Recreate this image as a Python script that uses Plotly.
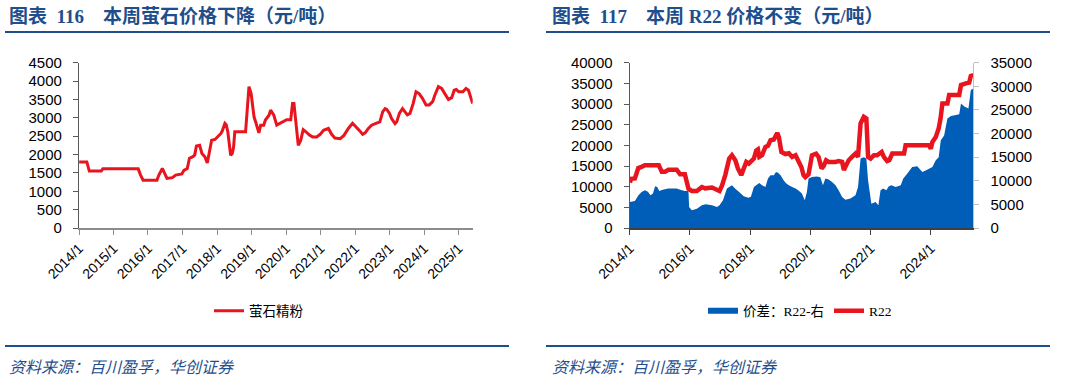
import plotly.graph_objects as go

# ---------------- data: left chart (萤石精粉, 元/吨) ----------------
fluor_dates = [
    "2014-01-03", "2014-03-25", "2014-04-20", "2014-08-25", "2014-09-10", "2015-09-20",
    "2015-10-15", "2015-11-10", "2016-04-05", "2016-04-25", "2016-06-01", "2016-06-28",
    "2016-07-20", "2016-09-15", "2016-10-20", "2016-12-25", "2017-01-15", "2017-02-20",
    "2017-03-15", "2017-04-20", "2017-05-10", "2017-05-28", "2017-07-01", "2017-07-25",
    "2017-08-25", "2017-09-20", "2017-10-15", "2017-11-05", "2017-12-10", "2018-01-05",
    "2018-02-10", "2018-02-25", "2018-03-25", "2018-04-08", "2018-04-25", "2018-05-25",
    "2018-06-10", "2018-06-25", "2018-07-08", "2018-10-30", "2018-11-15", "2018-12-05",
    "2018-12-28", "2019-01-28", "2019-02-15", "2019-03-20", "2019-04-08", "2019-05-10",
    "2019-05-28", "2019-07-05", "2019-07-22", "2019-08-25", "2019-09-25", "2019-10-30",
    "2019-12-01", "2020-01-08", "2020-02-20", "2020-03-10", "2020-03-25", "2020-04-15",
    "2020-05-10", "2020-06-05", "2020-07-01", "2020-07-30", "2020-09-05", "2020-10-08",
    "2020-11-20", "2020-12-28", "2021-02-01", "2021-03-25", "2021-04-28", "2021-06-01",
    "2021-07-28", "2021-09-05", "2021-10-22", "2021-12-05", "2022-01-10", "2022-02-18",
    "2022-03-22", "2022-04-18", "2022-05-22", "2022-06-25", "2022-08-10", "2022-09-20",
    "2022-10-20", "2022-11-15", "2022-12-02", "2023-01-01", "2023-01-22", "2023-02-28",
    "2023-03-18", "2023-04-15", "2023-05-18", "2023-06-12", "2023-07-08", "2023-08-05",
    "2023-09-08", "2023-10-08", "2023-11-10", "2023-12-15", "2024-01-22", "2024-02-25",
    "2024-04-01", "2024-04-25", "2024-06-01", "2024-07-05", "2024-08-10", "2024-09-15",
    "2024-10-20", "2024-11-15", "2024-12-08", "2025-01-01", "2025-02-15", "2025-03-20",
    "2025-04-15", "2025-05-01", "2025-05-30",
]
fluor_price = [
    1800, 1800, 1550, 1550, 1610, 1610,
    1440, 1300, 1300, 1440, 1620, 1440,
    1350, 1370, 1440, 1470, 1570, 1620,
    1900, 1940, 1990, 2230, 2250, 2030,
    1940, 1770, 2080, 2390, 2410, 2480,
    2570, 2640, 2850, 2810, 2620, 1980,
    2020, 2200, 2620, 2620, 3200, 3850,
    3660, 3020, 2880, 2590, 2800, 2800,
    2940, 3070, 3210, 3070, 2800, 2850,
    2910, 2950, 2950, 3390, 3390, 2760,
    2250, 2390, 2680, 2620, 2530, 2480,
    2480, 2550, 2660, 2710, 2550, 2450,
    2430, 2520, 2710, 2850, 2760, 2650,
    2550, 2590, 2710, 2800, 2850, 2890,
    3160, 3250, 3230, 3120, 2980, 2840,
    2890, 3120, 3250, 3170, 3080, 3120,
    3390, 3710, 3660, 3530, 3350, 3350,
    3440, 3620, 3850, 3800, 3660, 3500,
    3550, 3750, 3770, 3710, 3710, 3800,
    3750, 3620, 3390,
]

# ---------------- data: right chart (R22 & 价差) ----------------
r22_dates = [
    "2014-01-03", "2014-01-20", "2014-03-05", "2014-04-15", "2014-05-25", "2014-07-05",
    "2014-12-20", "2015-01-25", "2015-03-05", "2015-04-15", "2015-07-25", "2015-09-05",
    "2015-11-01", "2015-12-15", "2016-01-25", "2016-03-25", "2016-05-25", "2016-07-05",
    "2016-09-25", "2016-11-25", "2016-12-25", "2017-01-25", "2017-03-05", "2017-04-22",
    "2017-05-25", "2017-07-05", "2017-08-05", "2017-09-15", "2017-10-15", "2017-11-15",
    "2017-12-15", "2018-01-15", "2018-02-15", "2018-03-15", "2018-04-05", "2018-04-22",
    "2018-05-25", "2018-07-05", "2018-08-05", "2018-09-05", "2018-10-15", "2018-11-25",
    "2018-12-15", "2019-01-15", "2019-03-05", "2019-04-15", "2019-05-25", "2019-07-05",
    "2019-08-10", "2019-09-15", "2019-10-10", "2019-11-01", "2019-12-10", "2020-01-01",
    "2020-01-20", "2020-03-10", "2020-04-10", "2020-05-15", "2020-06-10", "2020-07-10",
    "2020-08-10", "2020-11-01", "2020-12-10", "2021-01-20", "2021-02-10", "2021-03-10",
    "2021-04-10", "2021-05-20", "2021-07-01", "2021-08-01", "2021-09-01", "2021-10-10",
    "2021-11-10", "2021-12-01", "2022-01-01", "2022-02-10", "2022-03-20", "2022-05-15",
    "2022-06-10", "2022-07-20", "2022-08-15", "2022-09-20", "2023-02-10", "2023-03-01",
    "2023-12-10", "2024-01-01", "2024-01-20", "2024-03-01", "2024-04-05", "2024-04-28",
    "2024-05-20", "2024-07-20", "2024-08-10", "2024-12-10", "2025-01-01", "2025-03-01",
    "2025-04-10", "2025-04-30", "2025-05-30",
]
r22_price = [
    11000, 11900, 12000, 14500, 14800, 15200,
    15200, 13600, 13600, 14100, 14100, 13000,
    13000, 9500, 8970, 8970, 9900, 9600,
    9800, 9300, 8970, 10300, 12800, 16800,
    17600, 16400, 14400, 12800, 14800, 16000,
    15600, 16400, 16800, 18700, 19000, 17200,
    17600, 19600, 19900, 21250, 21400, 23000,
    22000, 18400, 17900, 18100, 17200, 17600,
    16400, 14700, 12800, 12300, 13000, 15600,
    17600, 18000, 17200, 14400, 15000, 16400,
    16000, 16000, 16200, 16000, 14000, 15200,
    16400, 17200, 18000, 17200, 25300, 26900,
    26500, 17200, 16800, 17600, 17600, 18400,
    17200, 16200, 16400, 18000, 18000, 20000,
    20000, 19200, 20800, 22000, 24100, 26500,
    30100, 30100, 32200, 32200, 34600, 35000,
    35200, 36800, 37000,
]

spread_dates = [
    "2014-01-03", "2014-03-05", "2014-04-15", "2014-05-25", "2014-07-05", "2014-08-10",
    "2014-09-10", "2014-10-10", "2014-11-05", "2014-12-01", "2014-12-25", "2015-02-05",
    "2015-04-15", "2015-07-25", "2015-09-05", "2015-11-01", "2015-12-15", "2015-12-22",
    "2016-01-25", "2016-03-25", "2016-05-25", "2016-07-10", "2016-09-25", "2016-11-25",
    "2016-12-25", "2017-02-05", "2017-03-25", "2017-05-25", "2017-07-05", "2017-08-20",
    "2017-10-15", "2017-12-10", "2018-01-10", "2018-02-15", "2018-03-15", "2018-04-22",
    "2018-05-25", "2018-07-05", "2018-08-05", "2018-09-05", "2018-10-15", "2018-11-10",
    "2018-12-05", "2019-01-05", "2019-02-10", "2019-03-15", "2019-04-15", "2019-05-25",
    "2019-07-05", "2019-08-10", "2019-09-20", "2019-10-25", "2019-11-20", "2019-12-10",
    "2020-01-20", "2020-03-20", "2020-05-01", "2020-06-01", "2020-07-01", "2020-08-10",
    "2020-09-20", "2020-11-01", "2020-12-10", "2021-01-20", "2021-03-01", "2021-05-01",
    "2021-07-01", "2021-08-01", "2021-09-01", "2021-10-10", "2021-11-10", "2021-12-01",
    "2022-01-10", "2022-03-01", "2022-04-05", "2022-05-01", "2022-06-01", "2022-07-10",
    "2022-08-10", "2022-09-10", "2022-11-01", "2023-01-01", "2023-02-01", "2023-03-20",
    "2023-05-20", "2023-07-20", "2023-09-20", "2023-10-30", "2023-12-10", "2024-01-20",
    "2024-03-01", "2024-04-05", "2024-05-01", "2024-06-10", "2024-07-20", "2024-09-01",
    "2024-11-01", "2024-12-10", "2025-01-01", "2025-02-10", "2025-04-01", "2025-04-30",
    "2025-05-30",
]
spread_value = [
    5500, 5700, 6900, 7640, 8000, 7700,
    6930, 7300, 8840, 8700, 7850, 8100,
    8340, 8340, 8100, 7850, 7850, 4450,
    3750, 4100, 4800, 5020, 4800, 4450,
    4800, 5900, 8340, 9050, 8300, 7600,
    6720, 6430, 6600, 8700, 9050, 9540,
    9050, 8700, 10460, 11170, 11170, 11880,
    11700, 11170, 10100, 9400, 9050, 8700,
    8340, 7950, 7280, 5870, 7600, 10460,
    10800, 10900, 10750, 9050, 10460, 10250,
    9750, 9050, 7950, 6580, 6000, 6220,
    6930, 8700, 14700, 15000, 14700, 10100,
    5160, 5500, 4800, 8000, 8340, 8000,
    8840, 9050, 8700, 9050, 10460, 11500,
    12940, 13100, 11880, 12200, 12550, 12940,
    14350, 15000, 18590, 19600, 23190, 23700,
    23900, 24100, 26370, 25700, 25310, 29200,
    29550,
]

# ---------------- axis labels ----------------
left_tick_dates = ["2014-01-01", "2015-01-01", "2016-01-01", "2017-01-01", "2018-01-01", "2019-01-01",
                   "2020-01-01", "2021-01-01", "2022-01-01", "2023-01-01", "2024-01-01", "2025-01-01"]
left_tick_text = ["2014/1", "2015/1", "2016/1", "2017/1", "2018/1", "2019/1",
                  "2020/1", "2021/1", "2022/1", "2023/1", "2024/1", "2025/1"]
right_tick_dates = ["2014-01-01", "2016-01-01", "2018-01-01", "2020-01-01", "2022-01-01", "2024-01-01"]
right_tick_text = ["2014/1", "2016/1", "2018/1", "2020/1", "2022/1", "2024/1"]

title_left = "图表  116    本周萤石价格下降（元/吨）"
title_right = "图表  117    本周 R22 价格不变（元/吨）"
source_text = "资料来源：百川盈孚，华创证券"

RED = "#E8141E"
BLUE = "#005EB8"
NAVY = "#1F4E8C"
W, H = 1066, 380

fig = go.Figure()

fig.add_trace(go.Scatter(
    x=fluor_dates, y=fluor_price, name="萤石精粉", mode="lines",
    line=dict(color=RED, width=3), xaxis="x", yaxis="y", legend="legend",
))
fig.add_trace(go.Scatter(
    x=spread_dates, y=spread_value, name="价差：R22-右", mode="none",
    fill="tozeroy", fillcolor=BLUE, xaxis="x2", yaxis="y2", legend="legend2",
))
fig.add_trace(go.Scatter(
    x=r22_dates, y=r22_price, name="R22", mode="lines",
    line=dict(color=RED, width=4.5), xaxis="x2", yaxis="y3", legend="legend2",
))

y_dom = [(H - 228) / H, (H - 62.7) / H]
tickfont_y = dict(family="Liberation Sans, Arial", size=15, color="#000")
tickfont_x = dict(family="Liberation Sans, Arial", size=14, color="#000")
legend_font = dict(family="Liberation Serif, Noto Sans CJK SC", size=13.5, color="#000")
x_end = "2025-05-30"

fig.update_layout(
    width=W, height=H,
    margin=dict(l=0, r=0, t=0, b=0, pad=0, autoexpand=False),
    paper_bgcolor="white", plot_bgcolor="rgba(0,0,0,0)",
    xaxis=dict(domain=[79 / W, 472.7 / W], anchor="y", type="date", automargin=False,
               range=["2014-01-01", x_end], tickvals=left_tick_dates, ticktext=left_tick_text,
               tickangle=-45, tickfont=tickfont_x, showgrid=False, zeroline=False,
               showline=True, linecolor="#8c8c8c", linewidth=1.5,
               ticks="outside", ticklen=5, tickcolor="#8c8c8c"),
    yaxis=dict(domain=y_dom, anchor="x", range=[0, 4500], dtick=500, automargin=False,
               tickfont=tickfont_y, showgrid=False, zeroline=False, tickformat="d",
               showline=True, linecolor="#595959", linewidth=1.2,
               ticks="outside", ticklen=5, tickcolor="#595959", ticklabelstandoff=8),
    xaxis2=dict(domain=[629.7 / W, 973.3 / W], anchor="y2", type="date", automargin=False,
                range=["2014-01-01", x_end], tickvals=right_tick_dates, ticktext=right_tick_text,
                tickangle=-45, tickfont=tickfont_x, showgrid=False, zeroline=False,
                showline=True, linecolor="#404040", linewidth=1.5,
                ticks="outside", ticklen=5, tickcolor="#404040"),
    yaxis2=dict(domain=y_dom, anchor="x2", side="right", range=[0, 35000], dtick=5000,
                automargin=False, tickformat="d",
                tickfont=tickfont_y, showgrid=False, zeroline=False,
                showline=True, linecolor="#bfbfbf", linewidth=1.2,
                ticks="outside", ticklen=5, tickcolor="#bfbfbf", ticklabelstandoff=8),
    yaxis3=dict(overlaying="y2", anchor="x2", side="left", range=[0, 40000], dtick=5000,
                automargin=False, tickformat="d",
                tickfont=tickfont_y, showgrid=False, zeroline=False,
                showline=True, linecolor="#595959", linewidth=1.2,
                ticks="outside", ticklen=5, tickcolor="#595959", ticklabelstandoff=8),
    legend=dict(orientation="h", x=259 / W, xanchor="center", y=(H - 311) / H, yanchor="middle",
                font=legend_font, bgcolor="rgba(0,0,0,0)"),
    legend2=dict(orientation="h", x=800 / W, xanchor="center", y=(H - 311) / H, yanchor="middle",
                 font=legend_font, bgcolor="rgba(0,0,0,0)"),
    showlegend=True,
)

title_font = dict(family="Liberation Serif, Noto Sans CJK SC", size=19, color=NAVY)
src_font = dict(family="Noto Sans CJK SC", size=16, color=NAVY)
fig.add_annotation(text="<b>" + title_left + "</b>", xref="paper", yref="paper",
                   x=7 / W, y=(H - 16) / H, xanchor="left", yanchor="middle",
                   showarrow=False, font=title_font)
fig.add_annotation(text="<b>" + title_right + "</b>", xref="paper", yref="paper",
                   x=550 / W, y=(H - 16) / H, xanchor="left", yanchor="middle",
                   showarrow=False, font=title_font)
fig.add_annotation(text="<i>" + source_text + "</i>", xref="paper", yref="paper",
                   x=7 / W, y=(H - 366) / H, xanchor="left", yanchor="middle",
                   showarrow=False, font=src_font)
fig.add_annotation(text="<i>" + source_text + "</i>", xref="paper", yref="paper",
                   x=550 / W, y=(H - 366) / H, xanchor="left", yanchor="middle",
                   showarrow=False, font=src_font)

for x0, x1 in [(5, 509), (546, 1050)]:
    for yy in (32, 346):
        fig.add_shape(type="line", xref="paper", yref="paper",
                      x0=x0 / W, x1=x1 / W, y0=(H - yy) / H, y1=(H - yy) / H,
                      line=dict(color=NAVY, width=2))

fig.write_html(
    "out.html",
    config={"displayModeBar": False},
    post_script="document.body.style.margin='0';document.body.style.overflow='hidden';",
)
